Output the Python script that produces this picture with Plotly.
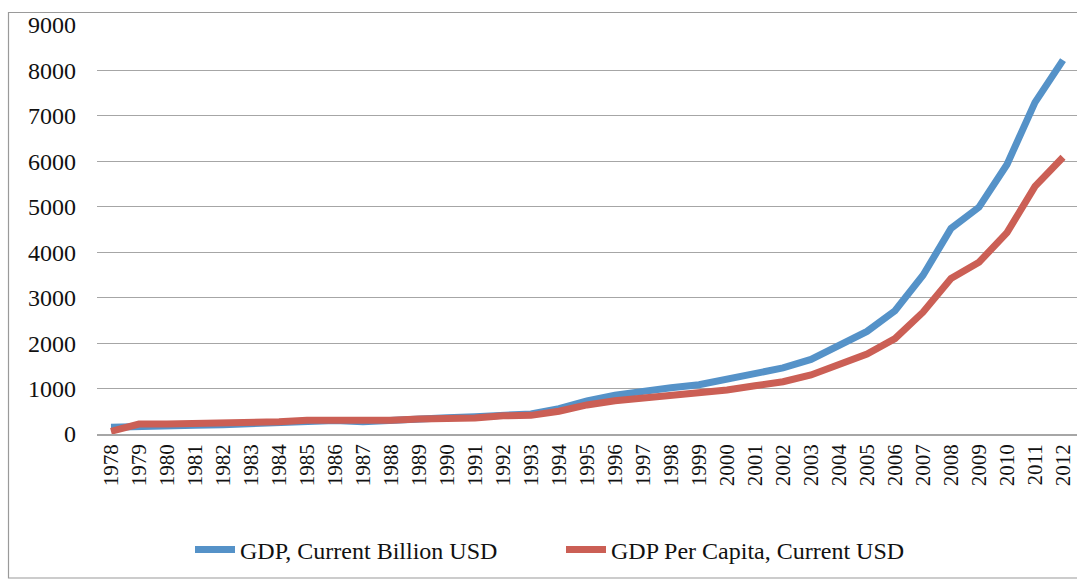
import plotly.graph_objects as go

years = [str(y) for y in range(1978, 2013)]
gdp_billion = [150, 176, 189, 194, 203, 228, 257, 307, 298, 271, 310, 345, 357, 379, 423, 441,
               559, 728, 856, 953, 1019, 1083, 1198, 1325, 1454, 1641, 1932, 2257, 2713, 3494,
               4522, 4991, 5931, 7298, 8227]
gdp_per_capita = [60, 220, 222, 225, 230, 250, 270, 300, 300, 270, 300, 330, 340, 350, 400, 410,
                  500, 640, 730, 790, 850, 880, 970, 1060, 1150, 1300, 1520, 1760, 2100, 2680,
                  3420, 3780, 4430, 5450, 6090]
y_ticks = [0, 1000, 2000, 3000, 4000, 5000, 6000, 7000, 8000, 9000]

W, H = 1077, 581
L, R, T, B = 97, 0, 25, 147
pw, ph = W - L - R, H - T - B

def px_x(p):
    return (p - L) / pw

def px_y(p):
    return (H - B - p) / ph

fig = go.Figure()
fig.add_trace(go.Scatter(x=years, y=gdp_billion, mode="lines", name="GDP, Current Billion USD",
                         line=dict(color="#5592C8", width=7)))
fig.add_trace(go.Scatter(x=years, y=gdp_per_capita, mode="lines", name="GDP Per Capita, Current USD",
                         line=dict(color="#CB5F55", width=7)))

font_family = "'Liberation Serif', 'Times New Roman', Times, serif"
fig.update_layout(
    width=W, height=H,
    margin=dict(l=L, r=R, t=T, b=B, pad=0),
    paper_bgcolor="white", plot_bgcolor="white",
    font=dict(family=font_family, color="#222222"),
    showlegend=True,
    legend=dict(orientation="h", x=px_x(190), xanchor="left", y=px_y(550), yanchor="middle",
                font=dict(family=font_family, size=24, color="#111111"),
                itemwidth=40, entrywidth=316, entrywidthmode="pixels",
                bgcolor="rgba(0,0,0,0)"),
    xaxis=dict(type="category", range=[-0.5, 34.5], tickangle=-90, showgrid=False,
               ticks="", tickfont=dict(family=font_family, size=21, color="#111111"),
               showline=True, linecolor="#A6A6A6", linewidth=1.5, zeroline=False, fixedrange=True),
    yaxis=dict(range=[0, 9000], tickvals=y_ticks, ticktext=[str(v) for v in y_ticks],
               showgrid=True, gridcolor="#A6A6A6", gridwidth=1.2, zeroline=False, ticks="",
               ticklabelstandoff=20,
               tickfont=dict(family=font_family, size=24, color="#111111"), showline=False),
    shapes=[dict(type="rect", xref="paper", yref="paper",
                 x0=px_x(8.5), x1=px_x(1085), y0=px_y(578), y1=px_y(12.5),
                 line=dict(color="#9A9A9A", width=1.2), fillcolor="rgba(0,0,0,0)", layer="below")],
)

fig.write_html("out.html")
